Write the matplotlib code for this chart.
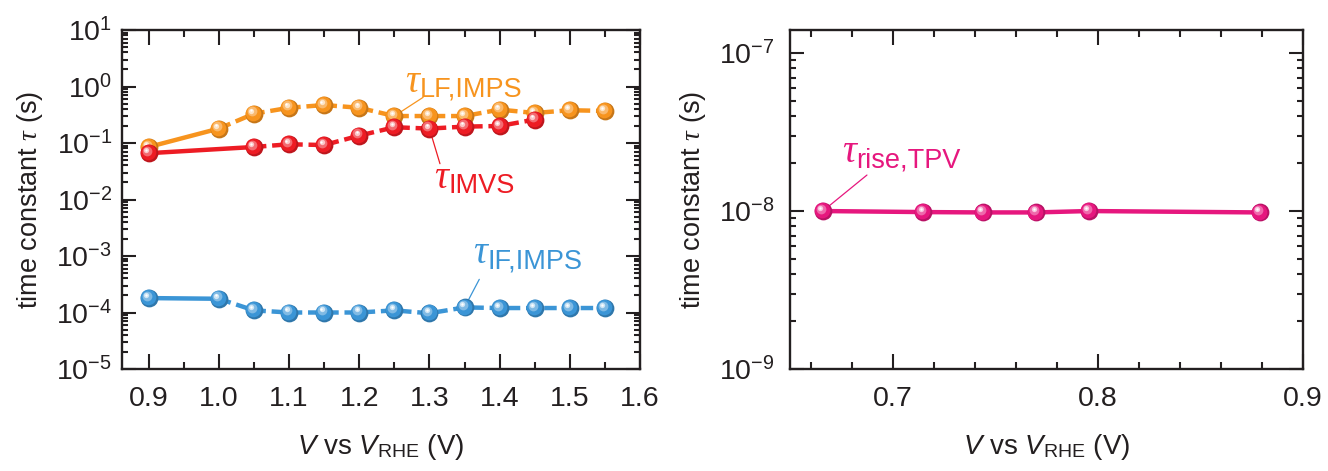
import numpy as np
import matplotlib
matplotlib.use("Agg")
import matplotlib.pyplot as plt
import matplotlib.colors as mcolors
from matplotlib.ticker import MultipleLocator, LogLocator, FuncFormatter, NullFormatter
from matplotlib.transforms import offset_copy

plt.rcParams["font.family"] = ["Liberation Sans", "DejaVu Sans"]
plt.rcParams["mathtext.fontset"] = "custom"
plt.rcParams["mathtext.rm"] = "Liberation Sans"
plt.rcParams["mathtext.it"] = "Liberation Serif:italic"
plt.rcParams["mathtext.sf"] = "Liberation Sans:italic"

# ---- data ----
v_imps = [0.90, 1.00, 1.05, 1.10, 1.15, 1.20, 1.25, 1.30, 1.35, 1.40, 1.45, 1.50, 1.55]
tau_lf_imps = [0.085, 0.18, 0.33, 0.42, 0.47, 0.42, 0.30, 0.30, 0.30, 0.39, 0.34, 0.38, 0.37]
tau_if_imps = [1.8e-4, 1.75e-4, 1.09e-4, 1.0e-4, 1.0e-4, 1.0e-4, 1.09e-4, 0.97e-4,
               1.23e-4, 1.2e-4, 1.2e-4, 1.2e-4, 1.2e-4]
v_imvs = [0.90, 1.05, 1.10, 1.15, 1.20, 1.25, 1.30, 1.35, 1.40, 1.45]
tau_imvs = [0.066, 0.085, 0.095, 0.092, 0.135, 0.19, 0.18, 0.195, 0.20, 0.26]
v_tpv = [0.666, 0.715, 0.744, 0.770, 0.7955, 0.879]
tau_rise_tpv = [1.0e-8, 0.985e-8, 0.98e-8, 0.98e-8, 1.0e-8, 0.98e-8]

C_ORANGE = "#F7941E"
C_RED = "#ED1C24"
C_BLUE = "#3B95D6"
C_PINK = "#E6177E"
C_TEXT = "#231F20"

LW = 3.2
MS = 12.8
DASH = (2.8, 1.3)

fig = plt.figure(figsize=(13.28, 4.71), dpi=100)
W, H = 1328.0, 471.0
ax1 = fig.add_axes([122 / W, 1 - 369 / H, 518 / W, 339 / H])
ax2 = fig.add_axes([790 / W, 1 - 369 / H, 513 / W, 339 / H])


def tint(rgb, f):
    return tuple(np.array(rgb) * (1 - f) + f)


def balls(ax, x, y, color, ms=MS, z=5):
    # shaded spheres: dark rim, body, and a bright highlight toward the upper left
    base = np.array(mcolors.to_rgb(color))
    layers = [
        (tuple(base * 0.80), 1.00, 0.0, 0.0),
        (tuple(base), 0.88, -0.05, 0.05),
        (tint(base, 0.35), 0.55, -0.11, 0.13),
        (tint(base, 0.75), 0.30, -0.14, 0.17),
        ((1, 1, 1), 0.13, -0.15, 0.19),
    ]
    for col, s, dx, dy in layers:
        tr = offset_copy(ax.transData, fig=ax.figure, x=dx * ms, y=dy * ms, units="points")
        ax.plot(x, y, ls="none", marker="o", ms=ms * s, mfc=col, mec="none",
                transform=tr, zorder=z)


def series(ax, x, y, color, n_solid):
    ax.plot(x[:n_solid], y[:n_solid], color=color, lw=LW, solid_capstyle="butt", zorder=3)
    if len(x) > n_solid:
        ln, = ax.plot(x[n_solid - 1:], y[n_solid - 1:], color=color, lw=LW, zorder=3)
        ln.set_dashes(DASH)
        ln.set_dash_capstyle("butt")
    balls(ax, x, y, color)


def tau_label(ax, x, y, sub, color, xp, yp, xs, ys):
    ax.text(x, y, "\u03c4", fontsize=28, family="Liberation Serif", style="italic",
            color=color, ha="left", va="baseline", zorder=6)
    ax.annotate(sub, xy=(x, y), xytext=(10.5, -3.5), textcoords="offset points",
                fontsize=19.5, color=color, ha="left", va="baseline", zorder=6)
    ax.annotate("", xy=(xp, yp), xytext=(xs, ys),
                arrowprops=dict(arrowstyle="-", color=color, lw=0.9, shrinkA=0, shrinkB=0),
                zorder=4)


def log_fmt(v, pos):
    e = int(round(np.log10(v)))
    return r"$\mathregular{10^{%d}}$" % e


def style_axes(ax, xmajor, xminor, xfmt, ypad):
    ax.set_yscale("log")
    for s in ax.spines.values():
        s.set_linewidth(1.7)
        s.set_color(C_TEXT)
    ax.xaxis.set_major_locator(MultipleLocator(xmajor))
    ax.xaxis.set_minor_locator(MultipleLocator(xminor))
    ax.xaxis.set_major_formatter(FuncFormatter(lambda v, p: xfmt % v))
    ax.yaxis.set_major_locator(LogLocator(base=10, numticks=20))
    ax.yaxis.set_minor_locator(LogLocator(base=10, subs=np.arange(2, 10), numticks=20))
    ax.yaxis.set_major_formatter(FuncFormatter(log_fmt))
    ax.yaxis.set_minor_formatter(NullFormatter())
    ax.tick_params(which="both", direction="in", top=True, right=True, width=1.5,
                   labelsize=20.5, colors=C_TEXT)
    ax.tick_params(axis="x", which="major", length=10.8, pad=12)
    ax.tick_params(axis="x", which="minor", length=5)
    ax.tick_params(axis="y", which="major", length=10, pad=ypad)
    ax.tick_params(axis="y", which="minor", length=4.3)
    ax.set_xlabel(r"$\mathsf{V}$ vs $\mathsf{V}_{\mathrm{RHE}}$ (V)", fontsize=20,
                  labelpad=15, color=C_TEXT)
    ax.set_ylabel(r"time constant $\tau$ (s)", fontsize=19.5, labelpad=8, color=C_TEXT)


# ---- left panel: IMPS / IMVS ----
style_axes(ax1, 0.1, 0.05, "%.1f", 7)
ax1.set_xlim(0.862, 1.6)
ax1.set_ylim(1e-5, 1e1)

series(ax1, v_imps, tau_lf_imps, C_ORANGE, 2)
series(ax1, v_imvs, tau_imvs, C_RED, 2)
series(ax1, v_imps, tau_if_imps, C_BLUE, 2)

tau_label(ax1, 1.266, 0.80, "LF,IMPS", C_ORANGE, v_imps[6], tau_lf_imps[6], 1.291, 0.643)
tau_label(ax1, 1.306, 0.0161, "IMVS", C_RED, v_imvs[6], tau_imvs[6], 1.315, 0.043)
tau_label(ax1, 1.362, 7.45e-4, "IF,IMPS", C_BLUE, v_imps[8], tau_if_imps[8], 1.371, 3.86e-4)

# ---- right panel: TPV ----
style_axes(ax2, 0.1, 0.02, "%.1f", 11)
ax2.set_xlim(0.65, 0.9)
ax2.set_ylim(1e-9, 1.4e-7)

series(ax2, v_tpv, tau_rise_tpv, C_PINK, len(v_tpv))
tau_label(ax2, 0.6753, 2.03e-8, "rise,TPV", C_PINK, v_tpv[0], tau_rise_tpv[0], 0.6875, 1.69e-8)

fig.savefig("out.png", dpi=100)
